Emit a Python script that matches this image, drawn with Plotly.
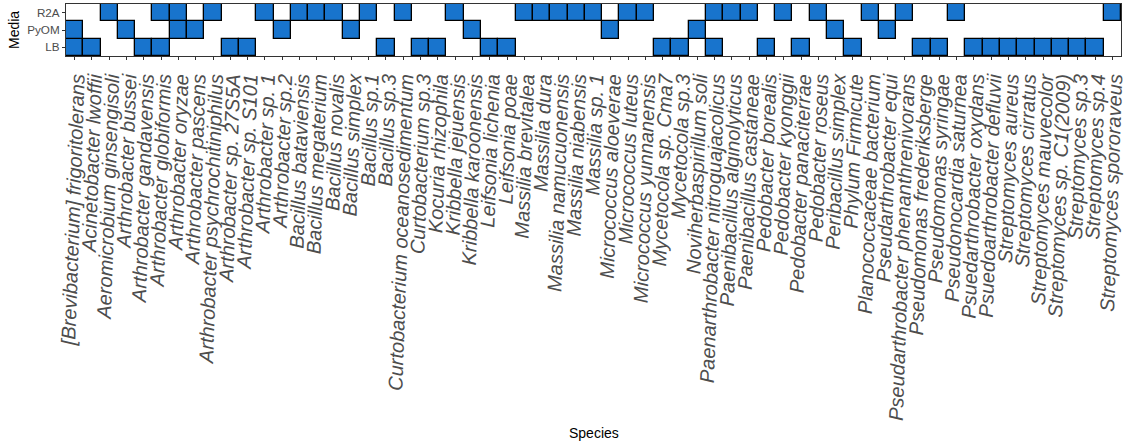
import plotly.graph_objects as go

# Species (x axis, left to right)
species = [
    "[Brevibacterium] frigoritolerans", "Acinetobacter lwoffii", "Aeromicrobium ginsengisoli",
    "Arthrobacter bussei", "Arthrobacter gandavensis", "Arthrobacter globiformis",
    "Arthrobacter oryzae", "Arthrobacter pascens", "Arthrobacter psychrochitiniphilus",
    "Arthrobacter sp. 27S5A", "Arthrobacter sp. S101", "Arthrobacter sp. 1", "Arthrobacter sp.2",
    "Bacillus bataviensis", "Bacillus megaterium", "Bacillus novalis", "Bacillus simplex",
    "Bacillus sp.1", "Bacillus sp.3", "Curtobacterium oceanosedimentum", "Curtobacterium sp.3",
    "Kocuria rhizophila", "Kribbella jejuensis", "Kribbella karoonensis", "Leifsonia lichenia",
    "Leifsonia poae", "Massilia brevitalea", "Massilia dura", "Massilia namucuonensis",
    "Massilia niabensis", "Massilia sp. 1", "Micrococcus aloeverae", "Micrococcus luteus",
    "Micrococcus yunnanensis", "Mycetocola sp. Cma7", "Mycetocola sp.3", "Noviherbaspirillum soli",
    "Paenarthrobacter nitroguajacolicus", "Paenibacillus alginolyticus", "Paenibacillus castaneae",
    "Pedobacter borealis", "Pedobacter kyonggii", "Pedobacter panaciterrae", "Pedobacter roseus",
    "Peribacillus simplex", "Phylum Firmicute", "Planococcaceae bacterium", "Pseudarthrobacter equi",
    "Pseudarthrobacter phenanthrenivorans", "Pseudomonas frederiksberge", "Pseudomonas syringae",
    "Pseudonocardia saturnea", "Psuedarthrobacter oxydans", "Psuedoarthrobacter defluvii",
    "Streptomyces aureus", "Streptomyces cirratus", "Streptomyces mauvecolor",
    "Streptomyces sp. C1(2009)", "Streptomyces sp.3", "Streptomyces sp.4", "Streptomyces spororaveus",
]

# Media (y axis, bottom to top)
media = ["LB", "PyOM", "R2A"]

# Presence (1) / absence (0) of each species on each medium
lb = [1, 1, 0, 0, 1, 1, 0, 0, 0, 1,
      1, 0, 0, 0, 0, 0, 0, 0, 1, 0,
      1, 1, 0, 0, 1, 1, 0, 0, 0, 0,
      0, 0, 0, 0, 1, 1, 0, 1, 0, 0,
      1, 0, 1, 0, 0, 1, 0, 0, 0, 1,
      1, 0, 1, 1, 1, 1, 1, 1, 1, 1,
      0]
pyom = [1, 0, 0, 1, 0, 0, 1, 1, 0, 0,
        0, 0, 1, 0, 0, 0, 1, 0, 0, 0,
        0, 0, 0, 1, 0, 0, 0, 0, 0, 0,
        0, 1, 0, 0, 0, 0, 1, 0, 0, 0,
        0, 0, 0, 0, 1, 0, 0, 1, 0, 0,
        0, 0, 0, 0, 0, 0, 0, 0, 0, 0,
        0]
r2a = [0, 0, 1, 0, 0, 1, 1, 0, 1, 0,
       0, 1, 0, 1, 1, 1, 0, 1, 0, 1,
       0, 0, 1, 0, 0, 0, 1, 1, 1, 1,
       1, 0, 1, 1, 0, 0, 0, 1, 1, 1,
       0, 1, 0, 1, 0, 0, 1, 0, 1, 0,
       0, 1, 0, 0, 0, 0, 0, 0, 0, 0,
       1]

presence = {"LB": lb, "PyOM": pyom, "R2A": r2a}

TILE = "#1874CD"
GREY = "#4D4D4D"
FONT = "Liberation Sans, Arial, sans-serif"

fig = go.Figure()
for row, m in enumerate(media):
    xs = [s for s, p in zip(species, presence[m]) if p]
    fig.add_trace(go.Bar(
        x=xs,
        y=[1] * len(xs),
        base=[row - 0.5] * len(xs),
        width=1,
        marker=dict(color=TILE, line=dict(color="black", width=1.3)),
        name=m,
        showlegend=False,
        hoverinfo="x+name",
    ))

fig.update_layout(
    width=1130,
    height=445,
    margin=dict(l=66, r=9, t=4, b=389),
    paper_bgcolor="white",
    plot_bgcolor="white",
    barmode="overlay",
    bargap=0,
    font=dict(family=FONT),
)

fig.update_xaxes(
    type="category",
    categoryorder="array",
    categoryarray=species,
    range=[-0.5, len(species) - 0.5],
    tickmode="array",
    tickvals=species,
    ticktext=species,
    tickangle=-88,
    tickfont=dict(family=FONT, size=20, color=GREY, style="italic"),
    ticks="outside",
    ticklen=3,
    tickcolor="#333333",
    showgrid=False,
    zeroline=False,
    showline=True,
    mirror=True,
    linecolor="#333333",
    linewidth=1,
    fixedrange=True,
)

fig.update_yaxes(
    range=[-0.5, 2.5],
    tickmode="array",
    tickvals=list(range(len(media))),
    ticktext=media,
    tickfont=dict(family=FONT, size=11.7, color=GREY),
    ticks="outside",
    ticklen=3,
    tickcolor="#333333",
    showgrid=False,
    zeroline=False,
    showline=True,
    mirror=True,
    linecolor="#333333",
    linewidth=1,
    fixedrange=True,
)

# Axis titles
fig.add_annotation(text="Species", xref="paper", yref="paper", x=0.5, y=0,
                   yshift=-377, showarrow=False, xanchor="center", yanchor="middle",
                   font=dict(family=FONT, size=14, color="black"))
fig.add_annotation(text="Media", xref="paper", yref="paper", x=0, y=0.5,
                   xshift=-52, textangle=-90, showarrow=False, xanchor="center",
                   yanchor="middle", font=dict(family=FONT, size=14, color="black"))

fig.write_html("out.html")
